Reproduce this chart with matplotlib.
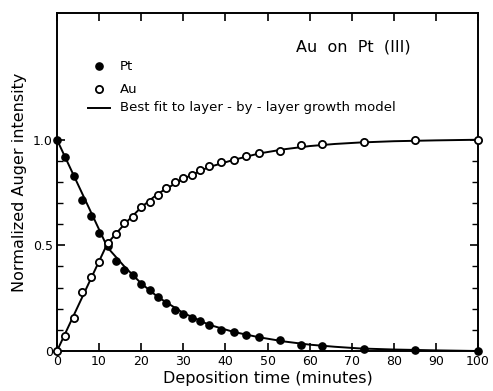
import matplotlib
matplotlib.use("Agg")
import matplotlib.pyplot as plt
from matplotlib.ticker import FixedLocator

# measured points (minutes, normalized intensity)
pt_t = [0, 2, 4, 6, 8, 10, 12, 14, 16, 18, 20, 22, 24, 26, 28, 30, 32, 34, 36,
        39, 42, 45, 48, 53, 58, 63, 73, 85, 100]
pt_v = [1.0, 0.92, 0.83, 0.715, 0.64, 0.56, 0.495, 0.425, 0.385, 0.36, 0.315,
        0.29, 0.257, 0.226, 0.196, 0.175, 0.158, 0.142, 0.123, 0.10, 0.088,
        0.078, 0.066, 0.05, 0.029, 0.025, 0.011, 0.005, 0.0]

au_t = [0, 2, 4, 6, 8, 10, 12, 14, 16, 18, 20, 22, 24, 26, 28, 30, 32, 34, 36,
        39, 42, 45, 48, 53, 58, 63, 73, 85, 100]
au_v = [0.0, 0.073, 0.155, 0.278, 0.349, 0.423, 0.51, 0.555, 0.605, 0.634,
        0.681, 0.703, 0.739, 0.771, 0.80, 0.818, 0.834, 0.855, 0.874, 0.893,
        0.902, 0.921, 0.937, 0.948, 0.976, 0.981, 0.989, 0.997, 1.0]

# best fit curves (layer-by-layer model)
fit_t = [0, 12, 16, 20, 24, 30, 36, 42, 48, 54, 60, 66, 72, 80, 90, 100]
fit_pt = [1.0, 0.49, 0.40, 0.32, 0.255, 0.18, 0.125, 0.09, 0.065, 0.045,
          0.03, 0.02, 0.012, 0.007, 0.003, 0.0]
fit_au = [0.0, 0.51, 0.60, 0.68, 0.745, 0.815, 0.87, 0.905, 0.935, 0.955,
          0.97, 0.98, 0.987, 0.993, 0.997, 1.0]

x_ticks = [0, 10, 20, 30, 40, 50, 60, 70, 80, 90, 100]
y_ticks = [0, 0.5, 1.0]
y_labels = ["0", "0.5", "1.0"]
y_minor = [0.1, 0.2, 0.3, 0.4, 0.6, 0.7, 0.8, 0.9]

plt.rcParams['font.family'] = ['DejaVu Sans']

fig = plt.figure(figsize=(4.93, 3.91), dpi=100)
ax = fig.add_axes([0.1156, 0.1023, 0.854, 0.8645])

ax.plot(fit_t, fit_pt, color='black', lw=1.4, zorder=1)
ax.plot(fit_t, fit_au, color='black', lw=1.4, zorder=1)
ax.plot(pt_t, pt_v, 'o', ms=5.2, mfc='black', mec='black', ls='none',
        clip_on=False, zorder=3)
ax.plot(au_t, au_v, 'o', ms=5.2, mfc='white', mec='black', mew=1.3,
        ls='none', clip_on=False, zorder=3)

ax.set_xlim(0, 100)
ax.set_ylim(0, 1.6)
ax.set_xticks(x_ticks)
ax.set_xticklabels([str(v) for v in x_ticks])
ax.yaxis.set_major_locator(FixedLocator(y_ticks))
ax.set_yticklabels(y_labels)
ax.yaxis.set_minor_locator(FixedLocator(y_minor))

ax.tick_params(which='major', direction='in', length=6, width=1.2,
               top=True, right=True, labelsize=9, pad=3)
ax.tick_params(which='minor', direction='in', length=4, width=1.0,
               left=True, right=True)
for s in ax.spines.values():
    s.set_linewidth(1.4)

ax.set_xlabel('Deposition time (minutes)', fontsize=11.5, labelpad=2)
ax.set_ylabel('Normalized Auger intensity', fontsize=11.5, labelpad=4)

# legend drawn as plain handles + text inside the axes
lx = 0.10
ax.plot([lx], [0.843], 'o', ms=5.2, mfc='black', mec='black',
        transform=ax.transAxes)
ax.text(lx + 0.05, 0.843, 'Pt', fontsize=9.5, va='center', transform=ax.transAxes)
ax.plot([lx], [0.775], 'o', ms=5.2, mfc='white', mec='black', mew=1.3,
        transform=ax.transAxes)
ax.text(lx + 0.05, 0.775, 'Au', fontsize=9.5, va='center', transform=ax.transAxes)
ax.plot([lx - 0.026, lx + 0.026], [0.719, 0.719], color='black', lw=1.4,
        transform=ax.transAxes)
ax.text(lx + 0.05, 0.719, 'Best fit to layer - by - layer growth model',
        fontsize=9.5, va='center', transform=ax.transAxes)

ax.text(0.705, 0.899, 'Au  on  Pt  (III)', fontsize=11.5, ha='center',
        va='center', transform=ax.transAxes)

fig.savefig('out.png', dpi=100)
